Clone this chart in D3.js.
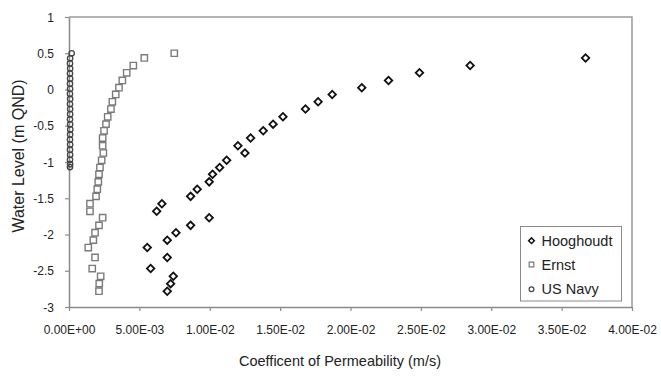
<!DOCTYPE html>
<html><head><meta charset="utf-8">
<script src="https://cdn.jsdelivr.net/npm/d3@7"></script>
<style>
html,body{margin:0;padding:0;background:#fff;}
svg{display:block;font-family:"Liberation Sans",Arial,sans-serif;}
</style></head>
<body>
<svg id="chart" width="661" height="378"></svg>
<script>
// Water levels (m QND)
const levels = [0.50, 0.435, 0.33, 0.23, 0.125, 0.025, -0.068, -0.17, -0.27, -0.377, -0.478, -0.57, -0.67, -0.775, -0.876, -0.977, -1.076, -1.17, -1.274, -1.375, -1.474, -1.575, -1.68, -1.768, -1.874, -1.975, -2.078, -2.18, -2.317, -2.47, -2.577, -2.678, -2.782];
// Hooghoudt permeability (m/s), levels[1..]
const hooghoudtK = [0.0367, 0.0285, 0.0249, 0.0227, 0.0208, 0.0187, 0.0177, 0.0168, 0.0152, 0.0145, 0.0138, 0.0129, 0.0120, 0.0125, 0.0112, 0.0107, 0.0102, 0.00996, 0.00911, 0.00864, 0.0066, 0.00623, 0.00996, 0.00864, 0.0076, 0.00698, 0.00556, 0.00698, 0.0058, 0.00741, 0.00722, 0.00698];
// Ernst permeability (m/s), all levels
const ernstK = [0.00748, 0.00535, 0.00457, 0.00410, 0.00379, 0.00355, 0.00332, 0.00308, 0.00298, 0.00275, 0.00263, 0.00249, 0.00239, 0.00239, 0.00244, 0.00232, 0.00220, 0.00213, 0.00208, 0.00201, 0.00192, 0.00149, 0.00149, 0.00239, 0.00213, 0.00185, 0.00173, 0.00137, 0.00185, 0.00165, 0.00225, 0.00215, 0.00213];
// US Navy
const navyLevels = [0.50, 0.43, 0.36, 0.29, 0.22, 0.15, 0.08, 0.01, -0.06, -0.13, -0.20, -0.27, -0.34, -0.41, -0.48, -0.55, -0.62, -0.69, -0.76, -0.83, -0.90, -0.97, -1.03, -1.07];
const navyK = [0.00019, 0.00008, 0.00007, 0.00008, 0.00007, 0.00008, 0.00007, 0.00008, 0.00007, 0.00008, 0.00007, 0.00008, 0.00008, 0.00007, 0.00008, 0.00009, 0.00008, 0.00007, 0.00008, 0.00007, 0.00008, 0.00007, 0.00008, 0.00007];

const xTicks = [0, 0.005, 0.01, 0.015, 0.02, 0.025, 0.03, 0.035, 0.04];
const xTickLabels = ["0.00E+00","5.00E-03","1.00E-02","1.50E-02","2.00E-02","2.50E-02","3.00E-02","3.50E-02","4.00E-02"];
const yTicks = [1, 0.5, 0, -0.5, -1, -1.5, -2, -2.5, -3];
const seriesNames = ["Hooghoudt", "Ernst", "US Navy"];
const xTitle = "Coefficent of Permeability (m/s)";
const yTitle = "Water Level (m QND)";

const svg = d3.select("#chart");
const L = 69, R = 632, T = 17, B = 307;
const x = d3.scaleLinear().domain([0, 0.04]).range([L, R]);
const y = d3.scaleLinear().domain([-3, 1]).range([B, T]);

const axisColor = "#8a8a8a";
const textColor = "#222";

// plot frame (top & right)
svg.append("path")
  .attr("d", `M${L},${T}H${R}V${B}`)
  .attr("fill","none").attr("stroke","#9a9a9a").attr("stroke-width",1.5);

// x axis
const xAxis = d3.axisBottom(x).tickValues(xTicks).tickFormat((d,i)=>xTickLabels[i]).tickSize(4).tickSizeOuter(0);
const gx = svg.append("g").attr("transform",`translate(0,${B})`).call(xAxis);
gx.select(".domain").attr("stroke",axisColor).attr("stroke-width",1.5);
gx.selectAll(".tick line").attr("stroke",axisColor).attr("stroke-width",1.2);
gx.selectAll(".tick text").attr("fill",textColor).attr("font-size","12px")
  .attr("font-family",'"Liberation Sans",Arial,sans-serif').attr("dy",null).attr("y",26.5);

// y axis
const yAxis = d3.axisLeft(y).tickValues(yTicks).tickFormat(d3.format("")).tickSize(4).tickSizeOuter(0);
const gy = svg.append("g").attr("transform",`translate(${L},0)`).call(yAxis);
gy.select(".domain").attr("stroke",axisColor).attr("stroke-width",1.5);
gy.selectAll(".tick line").attr("stroke",axisColor).attr("stroke-width",1.2);
gy.selectAll(".tick text").attr("fill",textColor).attr("font-size","12px")
  .attr("font-family",'"Liberation Sans",Arial,sans-serif').attr("x",-15).attr("dy","0.35em")
  .text(d => d < 0 ? "-" + Math.abs(d) : d);

// titles
svg.append("text").attr("x",340).attr("y",366).attr("text-anchor","middle")
  .attr("font-size","14.5px").attr("fill",textColor).text(xTitle);
svg.append("text").attr("transform","translate(24,156) rotate(-90)").attr("text-anchor","middle")
  .attr("font-size","16px").attr("fill",textColor).text(yTitle);

const diamond = d3.symbol().type(d3.symbolSquare).size(28)();
const square = d3.symbol().type(d3.symbolSquare).size(40)();

// US Navy circles
svg.append("g").selectAll("circle").data(navyK).join("circle")
  .attr("cx",d=>x(d)).attr("cy",(d,i)=>y(navyLevels[i])).attr("r",2.7)
  .attr("fill","none").attr("stroke","#444").attr("stroke-width",1.3);

// Ernst squares
svg.append("g").selectAll("path").data(ernstK).join("path")
  .attr("d",square).attr("transform",(d,i)=>`translate(${x(d)},${y(levels[i])})`)
  .attr("fill","none").attr("stroke","#7a7a7a").attr("stroke-width",1.4);

// Hooghoudt diamonds
svg.append("g").selectAll("path").data(hooghoudtK).join("path")
  .attr("d",diamond).attr("transform",(d,i)=>`translate(${x(d)},${y(levels[i+1])}) rotate(45)`)
  .attr("fill","none").attr("stroke","#111").attr("stroke-width",1.8);

// legend
const lg = svg.append("g");
lg.append("rect").attr("x",520.5).attr("y",226.5).attr("width",101).attr("height",74.5)
  .attr("fill","#fff").attr("stroke","#8a8a8a").attr("stroke-width",1);
const rowsY = [240.7, 264.5, 289.3];
seriesNames.forEach((name,i)=>{
  const cy = rowsY[i], cx = 531.5;
  if(i===0) lg.append("path").attr("d",d3.symbol().type(d3.symbolSquare).size(16)())
      .attr("transform",`translate(${cx},${cy}) rotate(45)`).attr("fill","none").attr("stroke","#111").attr("stroke-width",1.5);
  if(i===1) lg.append("path").attr("d",d3.symbol().type(d3.symbolSquare).size(22)())
      .attr("transform",`translate(${cx},${cy})`).attr("fill","none").attr("stroke","#7a7a7a").attr("stroke-width",1.2);
  if(i===2) lg.append("circle").attr("cx",cx).attr("cy",cy).attr("r",2.4)
      .attr("fill","none").attr("stroke","#444").attr("stroke-width",1.2);
  lg.append("text").attr("x",541.5).attr("y",cy).attr("dy","0.35em")
    .attr("font-size","14.5px").attr("fill",textColor).text(name);
});
</script>
</body></html>
